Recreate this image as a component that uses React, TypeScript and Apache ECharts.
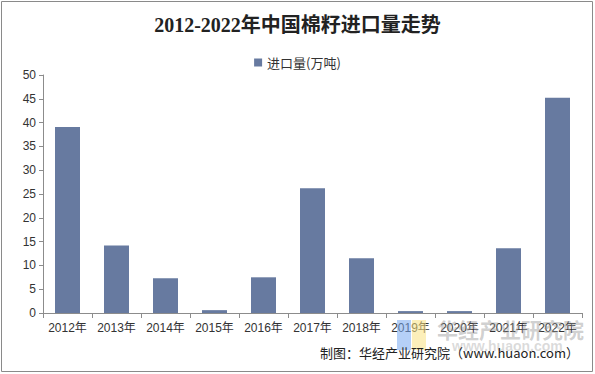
import React, { useEffect, useRef } from "react";
import * as echarts from "echarts";

const categories = ["2012年", "2013年", "2014年", "2015年", "2016年", "2017年", "2018年", "2019年", "2020年", "2021年", "2022年"];
const importVolume = [39.1, 14.2, 7.3, 0.6, 7.5, 26.2, 11.5, 0.4, 0.4, 13.6, 45.2];
const seriesName = "进口量(万吨)";
const titleText = "2012-2022年中国棉籽进口量走势";
const sourceText = "制图：华经产业研究院（www.huaon.com）";

export default function App() {
  const ref = useRef<HTMLDivElement>(null);
  useEffect(() => {
    if (!ref.current) return;
    const chart = echarts.init(ref.current, null, { renderer: "svg" });
    chart.setOption({
      animation: false,
      backgroundColor: "#fff",
      title: {
        text: titleText,
        left: "center",
        top: 10,
        textStyle: {
          fontFamily: "'Liberation Serif', 'Noto Sans CJK SC', serif",
          fontSize: 20,
          fontWeight: "bold",
          color: "#222",
        },
      },
      legend: {
        top: 51,
        left: "center",
        itemWidth: 8,
        itemHeight: 8,
        icon: "rect",
        itemGap: 4,
        textStyle: { fontFamily: "'Noto Sans CJK SC', sans-serif", fontSize: 13, color: "#333" },
        data: [seriesName],
      },
      grid: { left: 43, right: 13, top: 75, bottom: 61, containLabel: false },
      xAxis: {
        type: "category",
        data: categories,
        axisLine: { lineStyle: { color: "#8c8c8c" } },
        axisTick: { show: true, alignWithLabel: false, length: 5, lineStyle: { color: "#8c8c8c" } },
        axisLabel: { fontFamily: "'Liberation Sans', 'Noto Sans CJK SC', sans-serif", fontSize: 12, color: "#333", margin: 9, interval: 0 },
      },
      yAxis: {
        type: "value",
        min: 0,
        max: 50,
        interval: 5,
        axisLine: { show: true, lineStyle: { color: "#8c8c8c" } },
        axisTick: { show: true, length: 4, lineStyle: { color: "#8c8c8c" } },
        splitLine: { show: false },
        axisLabel: { fontFamily: "'Liberation Sans', sans-serif", fontSize: 12, color: "#333", margin: 7 },
      },
      series: [
        {
          name: seriesName,
          type: "bar",
          data: importVolume,
          barWidth: 25,
          itemStyle: { color: "#677AA0" },
        },
      ],
      graphic: [
        {
          type: "rect",
          shape: { x: 1.5, y: 1.5, width: 591, height: 370 },
          style: { fill: "none", stroke: "#8a8a8a", lineWidth: 1 },
          silent: true,
        },
        {
          type: "rect",
          shape: { x: 397, y: 320, width: 14, height: 30 },
          style: { fill: "rgba(120,170,240,0.55)" },
          silent: true,
          z: 10,
        },
        {
          type: "rect",
          shape: { x: 412, y: 320, width: 14, height: 30 },
          style: { fill: "rgba(250,225,130,0.55)" },
          silent: true,
          z: 10,
        },
        {
          type: "text",
          x: 437,
          y: 318,
          style: {
            text: "华经产业研究院",
            fontFamily: "'Noto Sans CJK SC', sans-serif",
            fontSize: 21,
            fontWeight: "bold",
            fill: "rgba(150,150,150,0.45)",
          },
          silent: true,
          z: 10,
        },
        {
          type: "text",
          x: 452,
          y: 339,
          style: {
            text: "www.huaon.com",
            fontFamily: "'Liberation Sans', sans-serif",
            fontSize: 14,
            fontWeight: "bold",
            fill: "rgba(150,150,150,0.35)",
          },
          silent: true,
          z: 10,
        },
        {
          type: "text",
          right: 16,
          top: 346,
          style: {
            text: sourceText,
            fontFamily: "'Noto Sans CJK SC', sans-serif",
            fontSize: 13,
            fill: "#222",
          },
          silent: true,
          z: 11,
        },
      ],
    });
    return () => chart.dispose();
  }, []);
  return <div ref={ref} style={{ position: "fixed", left: 0, top: 0, width: 595, height: 374 }} />;
}
